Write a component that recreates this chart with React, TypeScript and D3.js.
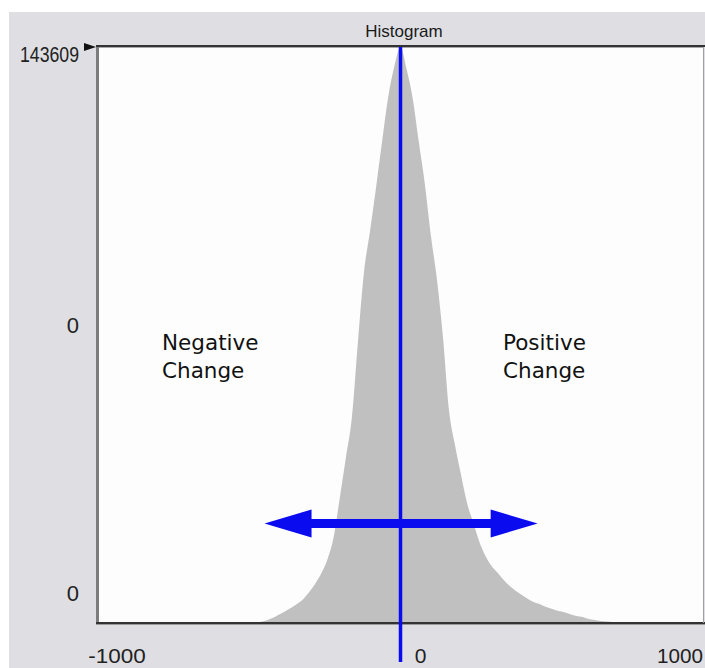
import React from "react";
import * as d3 from "d3";

// Histogram of change values: bin centres and pixel counts
const binCentres = [
  -500, -480, -460, -440, -420, -400, -380, -360, -340, -320, -300, -280, -260, -240, -220, -200,
  -180, -160, -140, -120, -100, -80, -60, -40, -20, 0, 20, 40, 60, 80, 100, 120, 140, 160, 180,
  200, 220, 240, 260, 280, 300, 320, 340, 360, 380, 400, 420, 440, 460, 480, 500, 520, 540, 560,
  580, 600, 620, 640, 660, 680, 700, 720,
];
const counts = [
  0, 100, 300, 700, 1300, 2100, 2900, 3800, 4800, 6000, 7800, 9900, 12500, 16000, 21500, 31200,
  41200, 51400, 70400, 87700, 97900, 108900, 120400, 131400, 138900, 143609, 138100, 130900,
  120100, 109600, 96700, 85700, 71200, 52900, 44200, 36700, 29700, 25000, 20200, 16700, 14200,
  12500, 10700, 9200, 8000, 7000, 6000, 5200, 4700, 4000, 3500, 3000, 2700, 2200, 1750, 1500,
  1000, 750, 500, 375, 250, 0,
];

const xDomain = [-1000, 1000];
const maxCount = 143609;
const xTickValues = [-1000, 0, 1000];
const xTickLabels = ["-1000", "0", "1000"];
const yTickLabels = ["143609", "0", "0"];
const title = "Histogram";
const leftNote = ["Negative", "Change"];
const rightNote = ["Positive", "Change"];

const W = 705;
const H = 668;
const plot = { left: 97, right: 704, top: 47, bottom: 623 };
const BLUE = "#0b0bef";
const LABEL_FONT = "'Liberation Sans', Arial, sans-serif";

export default function App() {
  const x = d3.scaleLinear().domain(xDomain).range([plot.left, plot.right]);
  const y = d3.scaleLinear().domain([0, maxCount]).range([plot.bottom, plot.top]);

  const pts: [number, number][] = binCentres.map((c, i) => [c, counts[i]]);
  const area = d3
    .area<[number, number]>()
    .x((d) => x(d[0]))
    .y0(y(0))
    .y1((d) => y(d[1]))
    .curve(d3.curveMonotoneX);

  const x0 = x(0);
  const arrowY = 523.5;
  const arrowL = x(-448);
  const arrowR = x(452);
  const head = 47;
  const headHalf = 14;
  const shaft = 4.5;

  const arrowPath = [
    `M${arrowL},${arrowY}`,
    `L${arrowL + head},${arrowY - headHalf}`,
    `L${arrowL + head},${arrowY - shaft}`,
    `L${arrowR - head},${arrowY - shaft}`,
    `L${arrowR - head},${arrowY - headHalf}`,
    `L${arrowR},${arrowY}`,
    `L${arrowR - head},${arrowY + headHalf}`,
    `L${arrowR - head},${arrowY + shaft}`,
    `L${arrowL + head},${arrowY + shaft}`,
    `L${arrowL + head},${arrowY + headHalf}`,
    "Z",
  ].join(" ");

  // y tick label baselines: top of range, mid panel, just above the floor
  const yLabelBaselines = [plot.top + 14.5, (plot.top + plot.bottom) / 2 - 2, plot.bottom - 22];
  const yLabelLengths = [59, 0, 0];

  return (
    <svg
      width={W}
      height={H}
      style={{ position: "absolute", left: 0, top: 0, background: "#ffffff" }}
    >
      <defs>
        <clipPath id="plotClip">
          <rect x={plot.left} y={plot.top} width={plot.right - plot.left} height={plot.bottom - plot.top} />
        </clipPath>
      </defs>

      {/* panel */}
      <rect x={9} y={12} width={W - 9} height={H - 12} fill="#dfdfe3" />
      <rect x={plot.left} y={plot.top} width={plot.right - plot.left} height={plot.bottom - plot.top} fill="#fdfdfd" />

      {/* histogram */}
      <path d={area(pts) || ""} fill="#c0c0c0" clipPath="url(#plotClip)" />

      {/* frame */}
      <rect x={plot.left - 1} y={plot.top - 1} width={3} height={plot.bottom - plot.top + 1} fill="#7c7c7c" />
      <rect x={plot.left - 1} y={plot.top - 2} width={plot.right - plot.left + 2} height={2} fill="#333333" />
      <rect x={plot.left + 2} y={plot.top} width={plot.right - plot.left - 2} height={1} fill="#a8a8a8" />
      <rect x={plot.left - 1} y={plot.bottom - 1} width={plot.right - plot.left + 2} height={2} fill="#333333" />
      <rect x={plot.left - 1} y={plot.bottom + 1} width={plot.right - plot.left + 2} height={1} fill="#9a9a9a" />
      <rect x={plot.right - 1} y={plot.top} width={1} height={plot.bottom - plot.top} fill="#a0a0a0" />

      {/* max marker */}
      <path d={`M${plot.left - 13},${plot.top - 4} L${plot.left - 1},${plot.top} L${plot.left - 13},${plot.top + 4} Z`} fill="#111" />

      {/* title */}
      <text x={404} y={37} textAnchor="middle" fontFamily={LABEL_FONT} fontSize={17} fill="#1a1a1a">
        {title}
      </text>

      {/* y labels */}
      {yTickLabels.map((t, i) => (
        <text
          key={`y${i}`}
          x={79}
          y={yLabelBaselines[i]}
          textAnchor="end"
          fontFamily={LABEL_FONT}
          fontSize={22}
          fill="#222"
          {...(yLabelLengths[i] ? { textLength: yLabelLengths[i], lengthAdjust: "spacingAndGlyphs" } : {})}
        >
          {t}
        </text>
      ))}

      {/* x labels, kept inside the panel's right edge */}
      {xTickValues.map((v, i) => {
        const len = xTickLabels[i].length > 1 ? xTickLabels[i].length * 11.5 : 0;
        const cx = Math.min(x(v) + 20, W - 2 - len / 2);
        return (
          <text
            key={`x${i}`}
            x={cx}
            y={663}
            textAnchor="middle"
            fontFamily={LABEL_FONT}
            fontSize={21}
            fill="#222"
            {...(len ? { textLength: len, lengthAdjust: "spacingAndGlyphs" } : {})}
          >
            {xTickLabels[i]}
          </text>
        );
      })}

      {/* zero line and direction arrow */}
      <line x1={x0} x2={x0} y1={plot.top} y2={662} stroke={BLUE} strokeWidth={3.5} />
      <path d={arrowPath} fill={BLUE} />

      {/* annotations */}
      {[leftNote, rightNote].map((lines, k) => (
        <text
          key={`n${k}`}
          x={k === 0 ? 162 : 503}
          y={350}
          fontFamily="'DejaVu Sans', Verdana, sans-serif"
          fontSize={21.5}
          fill="#111"
        >
          {lines.map((l, j) => (
            <tspan key={j} x={k === 0 ? 162 : 503} dy={j === 0 ? 0 : 28}>
              {l}
            </tspan>
          ))}
        </text>
      ))}
    </svg>
  );
}
